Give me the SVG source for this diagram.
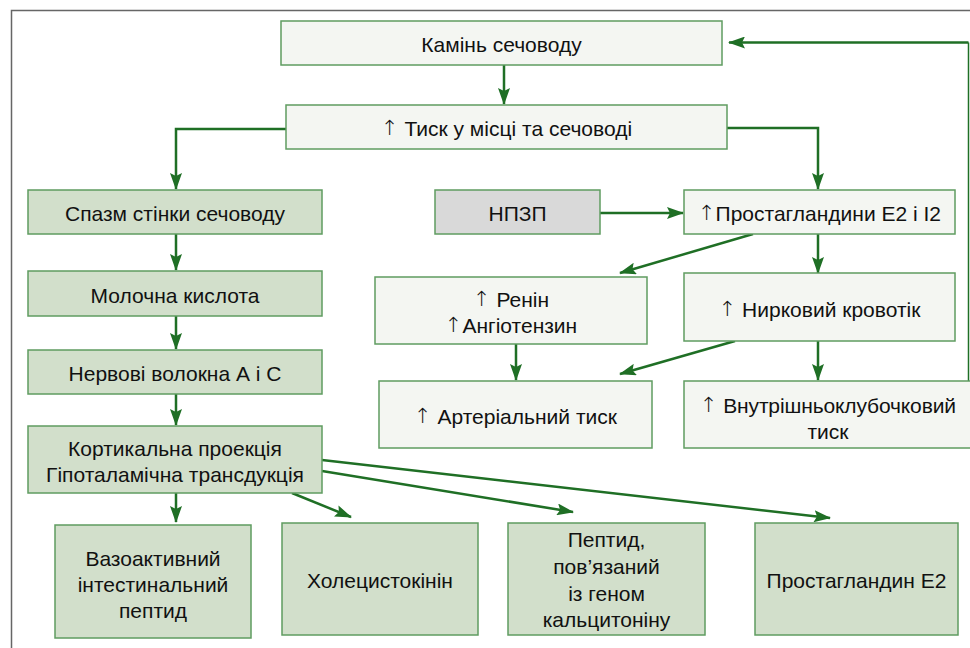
<svg xmlns="http://www.w3.org/2000/svg" width="970" height="648" viewBox="0 0 970 648">
<defs>
<marker id="ah" viewBox="0 0 17 12" refX="16" refY="6" markerWidth="17" markerHeight="12" markerUnits="userSpaceOnUse" orient="auto">
<path d="M0,0 L17,6 L0,12 L3,6 z" fill="#1f6f25"/>
</marker>
<style>
.lt{fill:#f4f6f2;stroke:#5f9c60;stroke-width:1.5}
.gr{fill:#d2dfcb;stroke:#5f9c60;stroke-width:1.5}
.gy{fill:#d9d9d9;stroke:#5f9c60;stroke-width:1.5}
text{font-family:"Liberation Sans",Arial,sans-serif;font-size:21px;fill:#111;text-anchor:middle;dominant-baseline:central}
.ar{font-family:"DejaVu Sans",sans-serif;font-weight:200;fill:#111}
.c{fill:none;stroke:#1f6f25;stroke-width:2.5;marker-end:url(#ah)}
</style>
</defs>
<rect x="11.5" y="10.5" width="970" height="650" fill="#fff" stroke="#666" stroke-width="1.5"/>
<g id="connectors">
<path class="c" d="M504,65 V104"/>
<path class="c" d="M286,129 H176 V189"/>
<path class="c" d="M727,128 H818 V189"/>
<path class="c" d="M600,213 H683"/>
<path d="M968.5,381 V42.5" fill="none" stroke="#1f6f25" stroke-width="1.5"/>
<path class="c" d="M968.5,42.5 H729"/>
<path class="c" d="M753,234 L620,273"/>
<path class="c" d="M818,234 V273"/>
<path class="c" d="M516,344 V380"/>
<path class="c" d="M735,341 L620,374"/>
<path class="c" d="M818,341 V380"/>
<path class="c" d="M176,234 V270"/>
<path class="c" d="M176,316 V349"/>
<path class="c" d="M176,394 V425"/>
<path class="c" d="M176,493 V522"/>
<path class="c" d="M292,493 L351,517"/>
<path class="c" d="M322,471 L573,512"/>
<path class="c" d="M322,460 L830,518"/>
</g>
<g id="n-kamin"><rect class="lt" x="281" y="21" width="441" height="44"/><text x="501.5" y="44">Камінь сечоводу</text></g>
<g id="n-tysk"><rect class="lt" x="286" y="105" width="441" height="44"/><text x="506.5" y="128"><tspan class="ar">↑</tspan> Тиск у місці та сечоводі</text></g>
<g id="n-spazm"><rect class="gr" x="28" y="190" width="294" height="44"/><text x="175" y="213">Спазм стінки сечоводу</text></g>
<g id="n-npzp"><rect class="gy" x="435" y="190" width="165" height="44"/><text x="517.5" y="213">НПЗП</text></g>
<g id="n-prost"><rect class="lt" x="684" y="190" width="271" height="44"/><text x="819.5" y="213"><tspan class="ar">↑</tspan>Простагландини E2 і I2</text></g>
<g id="n-renin"><rect class="lt" x="375" y="277" width="272" height="67"/><text x="511" y="299"><tspan class="ar">↑</tspan> Ренін</text><text x="511" y="325"><tspan class="ar">↑</tspan>Ангіотензин</text></g>
<g id="n-nyrk"><rect class="lt" x="684" y="273" width="271" height="68"/><text x="819.5" y="309"><tspan class="ar">↑</tspan> Нирковий кровотік</text></g>
<g id="n-art"><rect class="lt" x="379" y="381" width="273" height="67"/><text x="515.5" y="416"><tspan class="ar">↑</tspan> Артеріальний тиск</text></g>
<g id="n-vnutr"><rect class="lt" x="684" y="381" width="300" height="67"/><text x="828" y="405" textLength="256" lengthAdjust="spacing"><tspan class="ar">↑</tspan> Внутрішньоклубочковий</text><text x="828" y="431">тиск</text></g>
<g id="n-moloch"><rect class="gr" x="28" y="271" width="294" height="45"/><text x="175" y="295">Молочна кислота</text></g>
<g id="n-nerv"><rect class="gr" x="28" y="350" width="294" height="44"/><text x="175" y="373">Нервові волокна А і С</text></g>
<g id="n-kort"><rect class="gr" x="28" y="426" width="294" height="67"/><text x="175" y="448">Кортикальна проекція</text><text x="175" y="474">Гіпоталамічна трансдукція</text></g>
<g id="n-vazo"><rect class="gr" x="55" y="525" width="196" height="113"/><text x="153" y="558">Вазоактивний</text><text x="153" y="584">інтестинальний</text><text x="153" y="610">пептид</text></g>
<g id="n-khol"><rect class="gr" x="282" y="523" width="196" height="112"/><text x="380" y="580">Холецистокінін</text></g>
<g id="n-pept"><rect class="gr" x="508" y="523" width="197" height="112"/><text x="606.5" y="539">Пептид,</text><text x="606.5" y="566">пов’язаний</text><text x="606.5" y="593">із геном</text><text x="606.5" y="619">кальцитоніну</text></g>
<g id="n-pe2"><rect class="gr" x="755" y="523" width="203" height="112"/><text x="856.5" y="580">Простагландин E2</text></g>
</svg>
